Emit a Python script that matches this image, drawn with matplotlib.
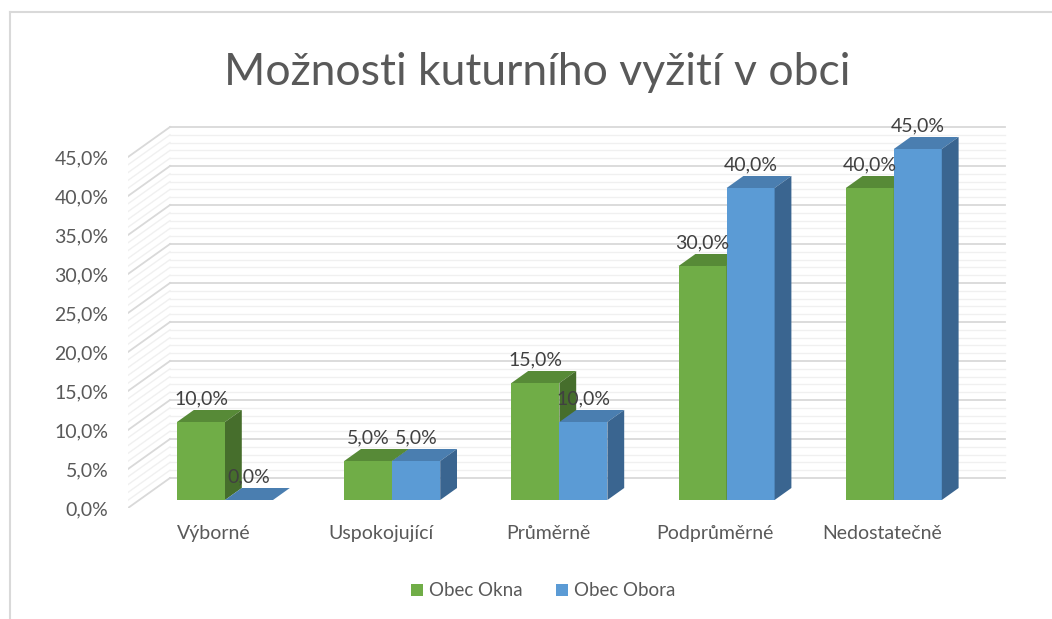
import numpy as np
import matplotlib.pyplot as plt
from matplotlib.patches import Polygon, Patch
from matplotlib.lines import Line2D

plt.rcParams['font.family'] = ['Lato', 'DejaVu Sans']

categories = ['Výborné', 'Uspokojující', 'Průměrně', 'Podprůměrné', 'Nedostatečně']
okna = [10.0, 5.0, 15.0, 30.0, 40.0]
obora = [0.0, 5.0, 10.0, 40.0, 45.0]
series_names = ['Obec Okna', 'Obec Obora']
yticks = np.arange(0, 46, 5)

front_cols = ['#70ad47', '#5b9bd5']
top_cols = ['#578a37', '#4a7eb0']
side_cols = ['#466e2c', '#3a6590']
txt = '#595959'

W, H = 1052, 619
fig = plt.figure(figsize=(W / 100, H / 100), dpi=100)

# pixel layout of the front plane
px0, pcat, pslope = 213.8, 167.2, 7.8
ax_l, ax_r, ax_b, ax_t = 128, 1010, 508, 100
ax = fig.add_axes([ax_l / W, 1 - ax_b / H, (ax_r - ax_l) / W, (ax_b - ax_t) / H])
ax.set_xlim((ax_l - px0) / pcat, (ax_r - px0) / pcat)
ax.set_ylim(0, (ax_b - ax_t) / pslope)
for s in ax.spines.values():
    s.set_visible(False)

# depth vector (data units) and wall extents
DX, DY = 42 / pcat, 30 / pslope
xw0 = (ax_l - px0) / pcat
xw1 = (1005 - 42 - px0) / pcat

# walls: back wall and left side wall grid
for v in range(0, 46):
    major = v % 5 == 0
    c = '#d9d9d9' if major else '#f0f0f0'
    lw = 1.3 if major else 1.0
    ax.add_line(Line2D([xw0 + DX, xw1 + DX], [v + DY, v + DY], color=c, lw=lw, zorder=1))
    ax.add_line(Line2D([xw0, xw0 + DX], [v, v + DY], color=c, lw=lw, zorder=1))

# bars
f, bd = 8 / 30, 0.4
w = 48 / pcat
x = np.arange(len(categories))
for s, vals in enumerate([okna, obora]):
    xc = x + f * DX + (s - 0.5) * w
    b0 = f * DY
    ax.bar(xc, vals, width=w, bottom=b0, color=front_cols[s], zorder=3 + s * 2)
    for xi, v in zip(xc, vals):
        xl, xr, top = xi - w / 2, xi + w / 2, b0 + v
        ax.add_patch(Polygon([(xl, top), (xr, top), (xr + bd * DX, top + bd * DY),
                              (xl + bd * DX, top + bd * DY)], closed=True,
                             facecolor=top_cols[s], edgecolor='none', zorder=3 + s * 2))
        ax.add_patch(Polygon([(xr, b0), (xr, top), (xr + bd * DX, top + bd * DY),
                              (xr + bd * DX, b0 + bd * DY)], closed=True,
                             facecolor=side_cols[s], edgecolor='none', zorder=3 + s * 2))
        ax.annotate(f'{v:.1f}%'.replace('.', ','), (xi, top), xytext=(0, 16.5),
                    textcoords='offset points', ha='center', va='center',
                    fontsize=14, color='#404040', zorder=10)

ax.set_yticks(yticks)
ax.set_yticklabels([f'{t:.1f}%'.replace('.', ',') for t in yticks])
ax.set_xticks(x)
ax.set_xticklabels(categories)
ax.tick_params(axis='y', length=0, pad=14, labelsize=14, labelcolor=txt)
ax.tick_params(axis='x', length=0, pad=12, labelsize=14, labelcolor=txt)

fig.text(537 / W, 1 - 85 / H, 'Možnosti kuturního vyžití v obci', ha='center', va='baseline',
         fontsize=32, color='#595959')

handles = [Patch(facecolor=c, edgecolor='none') for c in front_cols]
fig.legend(handles, series_names, loc='center', bbox_to_anchor=(543 / W, 1 - 591 / H),
           ncol=2, frameon=False, fontsize=13.5, labelcolor=txt, handlelength=0.65,
           handleheight=0.65, handletextpad=0.3, columnspacing=1.8)

# chart border (left and top)
fig.add_artist(Line2D([10 / W, 10 / W], [0, 1 - 12 / H], color='#d9d9d9', lw=1.5))
fig.add_artist(Line2D([10 / W, 1], [1 - 12 / H, 1 - 12 / H], color='#d9d9d9', lw=1.5))

fig.savefig('out.png', dpi=100)
